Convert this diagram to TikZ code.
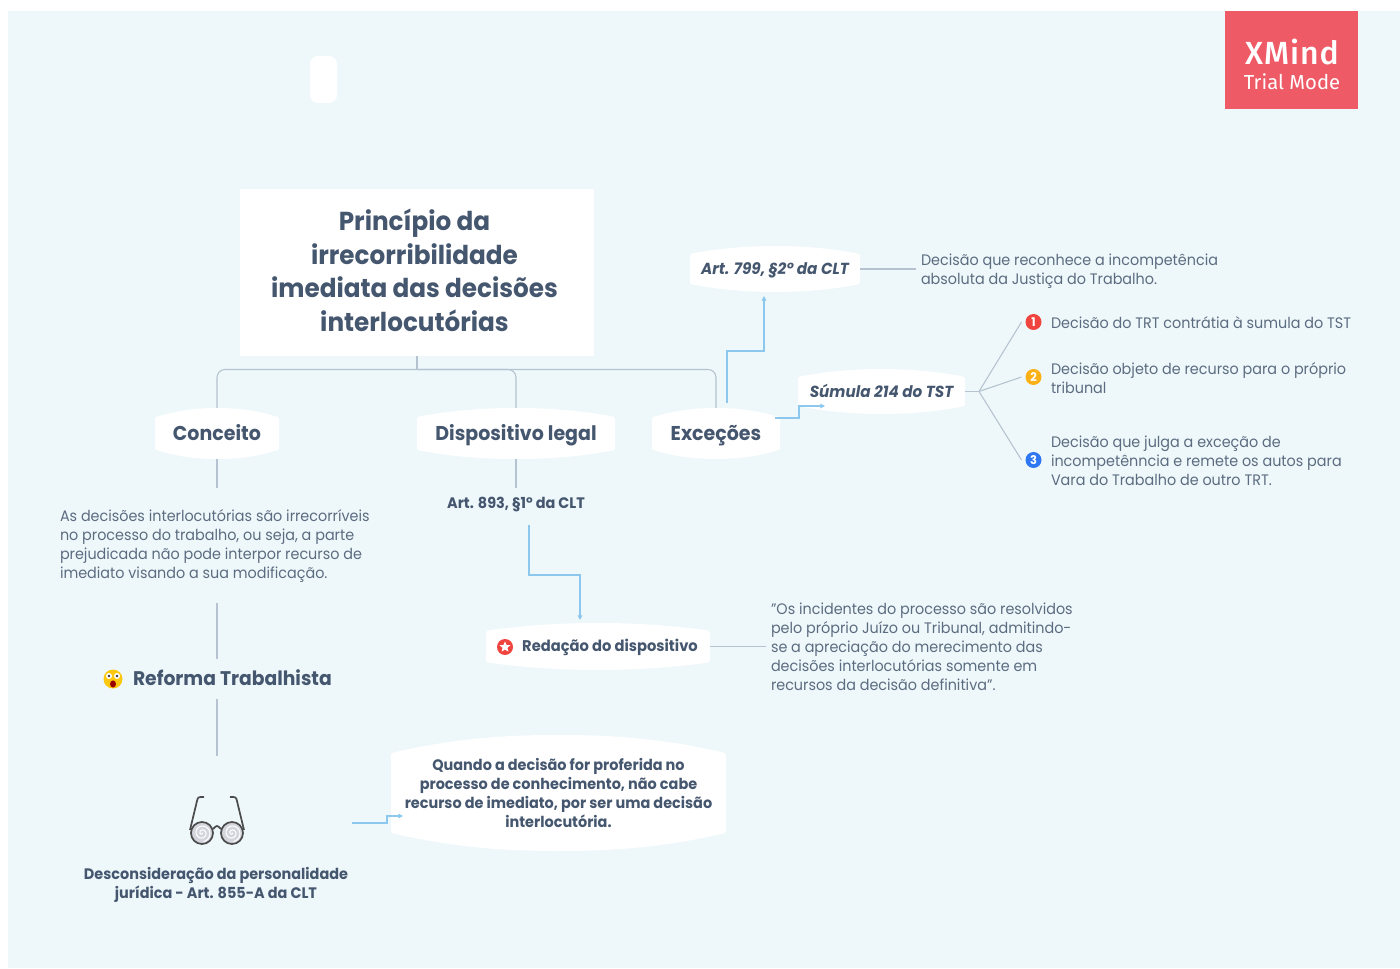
\documentclass[tikz,border=0pt]{standalone}
\usepackage{fontspec}
\setmainfont{Poppins}[FakeStretch=0.945]
\newfontfamily\bfam{Poppins}[FakeStretch=0.95,UprightFont=* Bold,ItalicFont=* Bold Italic]
\newfontfamily\logofam{Fira Sans Medium}
\newfontfamily\logofamb{Fira Sans}
\usetikzlibrary{calc,arrows.meta,shapes.geometric}
\definecolor{pagebg}{HTML}{EEF8FB}
\definecolor{ink}{HTML}{45566F}
\definecolor{body}{HTML}{5C6C80}
\definecolor{grayline}{HTML}{B4C3CF}
\definecolor{blueline}{HTML}{8CC8EE}
\definecolor{logored}{HTML}{EE5A66}
\definecolor{iconred}{HTML}{F0443E}
\definecolor{iconorange}{HTML}{FBB016}
\definecolor{iconblue}{HTML}{2F77F0}
\tikzset{
 conn/.style={draw=grayline,line width=.8pt},
 barb/.style={draw=blueline,line width=.8pt,-{Triangle[width=3.4pt,length=3.4pt]}},
 box/.style={inner sep=0pt,outer sep=0pt,align=center},
 bodytext/.style={inner sep=0pt,outer sep=0pt,align=left,anchor=north west,text=body,font=\fontsize{11.4}{14.25}\selectfont},
 boldtext/.style={box,text=ink,font=\bfam\fontsize{11.4}{14.25}\selectfont},
 italtext/.style={box,text=ink,font=\bfam\itshape\fontsize{12}{14.25}\selectfont},
 branchtext/.style={text=ink,font=\bfam\fontsize{15}{18}\selectfont},
 numicon/.style={circle,inner sep=0pt,minimum size=12pt,outer sep=3pt,text=white,font=\bfam\fontsize{9}{9}\selectfont},
}
\newcommand\lowered[2]{\raisebox{-#1}[0pt][0pt]{#2}}
% name, x0,y0,x1,y1, corner drop, style, text
\newcommand\barrel[8]{%
 \pgfmathsetmacro\bw{#4-#2}\pgfmathsetmacro\bh{#5-#3}%
 \pgfmathsetmacro\bcx{(#2+#4)/2}\pgfmathsetmacro\bcy{(#3+#5)/2}%
 \pgfmathsetmacro\bq{\bw*.22}%
 \fill[white] (#2,#3+#6+5) .. controls (#2,#3+#6+1) .. (#2+5,#3+#6)
   .. controls (#2+\bq,#3+1) and (\bcx-\bq*.5,#3) .. (\bcx,#3)
   .. controls (\bcx+\bq*.5,#3) and (#4-\bq,#3+1) .. (#4-5,#3+#6)
   .. controls (#4,#3+#6+1) .. (#4,#3+#6+5) -- (#4,#5-#6-5)
   .. controls (#4,#5-#6-1) .. (#4-5,#5-#6)
   .. controls (#4-\bq,#5-1) and (\bcx+\bq*.5,#5) .. (\bcx,#5)
   .. controls (\bcx-\bq*.5,#5) and (#2+\bq,#5-1) .. (#2+5,#5-#6)
   .. controls (#2,#5-#6-1) .. (#2,#5-#6-5) -- cycle;
 \node[box,minimum width=\bw*.75pt,minimum height=\bh*.75pt,#7] (#1) at (\bcx,\bcy) {#8};%
}
\begin{document}
\begin{tikzpicture}[x=.75pt,y=-.75pt]
\useasboundingbox (0,0) rectangle (1400,969);
\fill[white] (0,0) rectangle (1400,969);
\fill[pagebg] (8,11) rectangle (1400,968);
\fill[white,rounded corners=6pt] (310,56) rectangle (337,103);
% logo
\node[fill=logored,box,minimum width=133*.75pt,minimum height=98*.75pt] (logo) at (1291.5,60) {};
\node[box,text=white,font=\logofam\fontsize{24}{24}\selectfont\addfontfeature{LetterSpace=3}] (logoa) at (1292,52) {XMind};
\node[box,text=white,font=\logofamb\fontsize{15.2}{15.2}\selectfont] (logob) at (1292,82) {Trial Mode};
% root
\node[fill=white,box,minimum width=354*.75pt,minimum height=167*.75pt] (rootbox) at (417,272.5) {};
\node[box,text=ink,font=\bfam\fontsize{19.5}{25.1}\selectfont] (root) at (414.5,270.5) {Princípio da\\irrecorribilidade\\imediata das decisões\\interlocutórias};
% branches
\barrel{conceito}{155}{408}{279}{459}{8}{branchtext}{\lowered{5.25pt}{Conceito}}
\barrel{dispositivo}{417}{408}{615}{459}{8}{branchtext}{\lowered{5.25pt}{Dispositivo legal}}
\barrel{excecoes}{652}{408}{780}{459}{8}{branchtext}{\lowered{5.25pt}{Exceções}}
\barrel{art799}{690}{246}{860}{292}{7}{italtext}{\lowered{4.2pt}{Art. 799, §2° da CLT}}
\barrel{sumula}{798}{369}{965}{414}{7}{italtext}{\lowered{4.2pt}{Súmula 214 do TST}}
\barrel{redacao}{486}{623}{710}{670}{7}{boldtext,font=\bfam\fontsize{11.6}{14.25}\selectfont}{\hspace*{18pt}\lowered{4.05pt}{Redação do dispositivo}}
\barrel{quando}{391}{735}{726}{851}{17}{boldtext}{Quando a decisão for proferida no\\processo de conhecimento, não cabe\\recurso de imediato, por ser uma decisão\\interlocutória.}
% text nodes
\node[bodytext] (conceitotxt) at (60,510) {As decisões interlocutórias são irrecorríveis\\no processo do trabalho, ou seja, a parte\\prejudicada não pode interpor recurso de\\imediato visando a sua modificação.};
\node[box,minimum width=310*.75pt,minimum height=115*.75pt] (conceitobox) at (217,545.5) {};
\node[box,minimum width=200*.75pt,minimum height=37*.75pt] (art893box) at (516,506.5) {};
\node[boldtext] (art893) at (516,505) {Art. 893, §1° da CLT};
\node[box,minimum width=240*.75pt,minimum height=40*.75pt] (reforma) at (217,679) {};
\node[box,text=ink,font=\bfam\fontsize{14.8}{18}\selectfont,anchor=west] (reformatxt) at (133,678) {Reforma Trabalhista};
\node[box,minimum width=270*.75pt,minimum height=134*.75pt] (oculos) at (217,823) {};
\node[boldtext] (desc) at (216,885) {Desconsideração da personalidade\\jurídica - Art. 855-A da CLT};
\node[bodytext] (art799txt) at (921,254) {Decisão que reconhece a incompetência\\absoluta da Justiça do Trabalho.};
\node[bodytext] (t1) at (1051,316.5) {Decisão do TRT contrátia à sumula do TST};
\node[bodytext] (t2) at (1051,363) {Decisão objeto de recurso para o próprio\\tribunal};
\node[bodytext] (t3) at (1051,436) {Decisão que julga a exceção de\\incompetênncia e remete os autos para\\Vara do Trabalho de outro TRT.};
\node[bodytext] (redtxt) at (771,603) {"Os incidentes do processo são resolvidos\\pelo próprio Juízo ou Tribunal, admitindo-\\se a apreciação do merecimento das\\decisões interlocutórias somente em\\recursos da decisão definitiva".};
% numbered icons
\node[numicon,fill=iconred] (i1) at (1033.5,322) {1};
\node[numicon,fill=iconorange] (i2) at (1033.5,377) {2};
\node[numicon,fill=iconblue] (i3) at (1033.5,460) {3};
\node[circle,fill=iconred,minimum size=12pt,inner sep=0pt] (staricon) at (505,647) {};
\node[star,star points=5,star point ratio=2.2,fill=white,inner sep=0pt,minimum size=8.5pt] (starin) at (505,647) {};
% gray connectors
\draw[conn] (rootbox.south) -- ++(0,13.5) coordinate (bus);
\draw[conn,rounded corners=6pt] (bus) -| (conceito.north);
\draw[conn,rounded corners=6pt] (bus) -| (dispositivo.north);
\draw[conn,rounded corners=6pt] (bus) -| (excecoes.north);
\draw[conn] (conceito.south) -- (conceitobox.north);
\draw[conn] (conceitobox.south) -- (reforma.north);
\draw[conn] (reforma.south) -- (oculos.north);
\draw[conn] (dispositivo.south) -- (art893box.north);
\draw[conn] (art799.east) -- ($(art799txt.west |- art799.east)+(-5,0)$);
\draw[conn] (redacao.east) -- ($(redtxt.west |- redacao.east)+(-5,0)$);
\coordinate (fan) at ($(sumula.east)+(14,0)$);
\draw[conn] (sumula.east) -- (fan);
\draw[conn] (fan) -- (i1.west);
\draw[conn] (fan) -- (i2.west);
\draw[conn] (fan) -- (i3.west);
% blue connectors
\draw[barb] ($(excecoes.north)+(11,-5)$) -- ++(0,-52) -| ($(art799.south)+(-11,4)$);
\draw[barb] ($(excecoes.east)+(-5,-15.5)$) -- ++(24,0) |- ($(sumula.west)+(27,14.5)$);
\draw[barb] ($(art893box.south)+(13,0)$) -- ++(0,50) -| ($(redacao.north)+(-18,-3)$);
\draw[barb] (oculos.east) -- ++(35,0) |- ($(quando.west)+(12,23)$);
% emoji
\fill[iconorange!70!yellow] (113,679) circle[radius=9.5];
\fill[white] (109,676) circle[radius=3] (117,676) circle[radius=3];
\fill[black!80] (109,676) circle[radius=1.4] (117,676) circle[radius=1.4];
\fill[red!60!black] (113,684) ellipse[x radius=3,y radius=3.6];
% glasses
\begin{scope}[line width=1.3pt,draw=black!70]
\draw (190,830) -- (197,801) .. controls (198,797) .. (204,797);
\draw (244,830) -- (237,801) .. controls (236,797) .. (230,797);
\draw (213,829) .. controls (217,825) .. (221,829);
\draw[fill=blue!12!gray!30] (202,833) circle[radius=11];
\draw[fill=blue!12!gray!30] (232,833) circle[radius=11];
\draw[white,line width=.8pt,domain=0:800,samples=50,smooth] plot ({202+.011*\x*cos(\x)},{833+.011*\x*sin(\x)});
\draw[white,line width=.8pt,domain=0:800,samples=50,smooth] plot ({232+.011*\x*cos(\x)},{833+.011*\x*sin(\x)});
\end{scope}
\end{tikzpicture}
\end{document}
